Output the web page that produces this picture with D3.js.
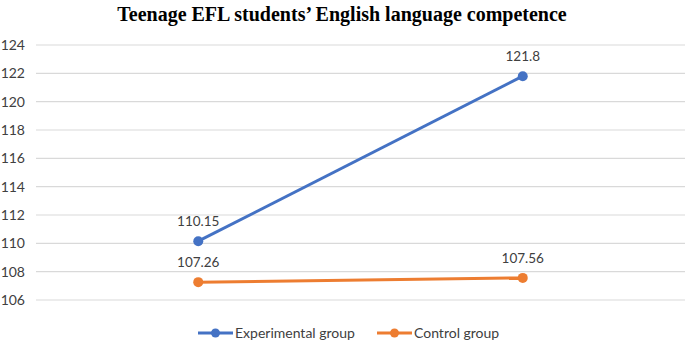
<!DOCTYPE html>
<html>
<head>
<meta charset="utf-8">
<script src="https://cdn.jsdelivr.net/npm/d3@7"></script>
<style>
  body { margin: 0; background: #fff; }
  svg { display: block; }
</style>
</head>
<body>
<div id="chart"></div>
<script>
const categories = ["Pre-test", "Post-test"];
const experimental = [110.15, 121.8];
const control = [107.26, 107.56];
const yTicks = [106, 108, 110, 112, 114, 116, 118, 120, 122, 124];
const seriesNames = ["Experimental group", "Control group"];
const colors = ["#4472C4", "#ED7D31"];

const width = 685, height = 342;
const margin = { top: 45, right: 0, bottom: 42, left: 36 };

const svg = d3.select("#chart").append("svg")
    .attr("width", width)
    .attr("height", height);

// title
svg.append("text")
    .attr("x", 342)
    .attr("y", 21)
    .attr("text-anchor", "middle")
    .style("font-family", "'Liberation Serif', 'Times New Roman', serif")
    .style("font-weight", "bold")
    .style("font-size", "20px")
    .text("Teenage EFL students\u2019 English language competence");

const x = d3.scaleBand()
    .domain(categories)
    .range([margin.left, width - margin.right]);

const y = d3.scaleLinear()
    .domain([106, 124])
    .range([height - margin.bottom, margin.top]);

// gridlines
svg.append("g")
    .selectAll("line")
    .data(yTicks)
    .enter().append("line")
    .attr("x1", margin.left)
    .attr("x2", width - margin.right)
    .attr("y1", d => y(d))
    .attr("y2", d => y(d))
    .attr("stroke", "#d9d9d9")
    .attr("stroke-width", 1.2);

// y labels
svg.append("g")
    .selectAll("text")
    .data(yTicks)
    .enter().append("text")
    .attr("x", 25)
    .attr("y", d => y(d))
    .attr("dy", "0.35em")
    .attr("text-anchor", "end")
    .style("font-family", "Lato, 'Liberation Sans', sans-serif")
    .style("font-size", "14px")
    .attr("fill", "#404040")
    .text(d => d);

const series = [experimental, control];
const line = d3.line()
    .x((d, i) => x(categories[i]) + x.bandwidth() / 2)
    .y(d => y(d));

series.forEach((vals, s) => {
    const g = svg.append("g");
    g.append("path")
        .datum(vals)
        .attr("d", line)
        .attr("fill", "none")
        .attr("stroke", colors[s])
        .attr("stroke-width", 3);
    g.selectAll("circle")
        .data(vals)
        .enter().append("circle")
        .attr("cx", (d, i) => x(categories[i]) + x.bandwidth() / 2)
        .attr("cy", d => y(d))
        .attr("r", 5)
        .attr("fill", colors[s]);
    // data labels
    g.selectAll("text")
        .data(vals)
        .enter().append("text")
        .attr("x", (d, i) => x(categories[i]) + x.bandwidth() / 2)
        .attr("y", d => y(d) - 15)
        .attr("text-anchor", "middle")
        .style("font-family", "Lato, 'Liberation Sans', sans-serif")
        .style("font-size", "13.5px")
        .attr("fill", "#404040")
        .text(d => d);
});

// legend
const legendX = [198, 377];
const legend = svg.append("g");
seriesNames.forEach((name, i) => {
    const lg = legend.append("g").attr("transform", `translate(${legendX[i]}, 333)`);
    lg.append("line")
        .attr("x1", 0).attr("x2", 35)
        .attr("stroke", colors[i])
        .attr("stroke-width", 3);
    lg.append("circle")
        .attr("cx", 17.5).attr("r", 4.5)
        .attr("fill", colors[i]);
    lg.append("text")
        .attr("x", 37)
        .attr("dy", "0.35em")
        .style("font-family", "Lato, 'Liberation Sans', sans-serif")
        .style("font-size", "14px")
        .attr("fill", "#404040")
        .text(name);
});
</script>
</body>
</html>
